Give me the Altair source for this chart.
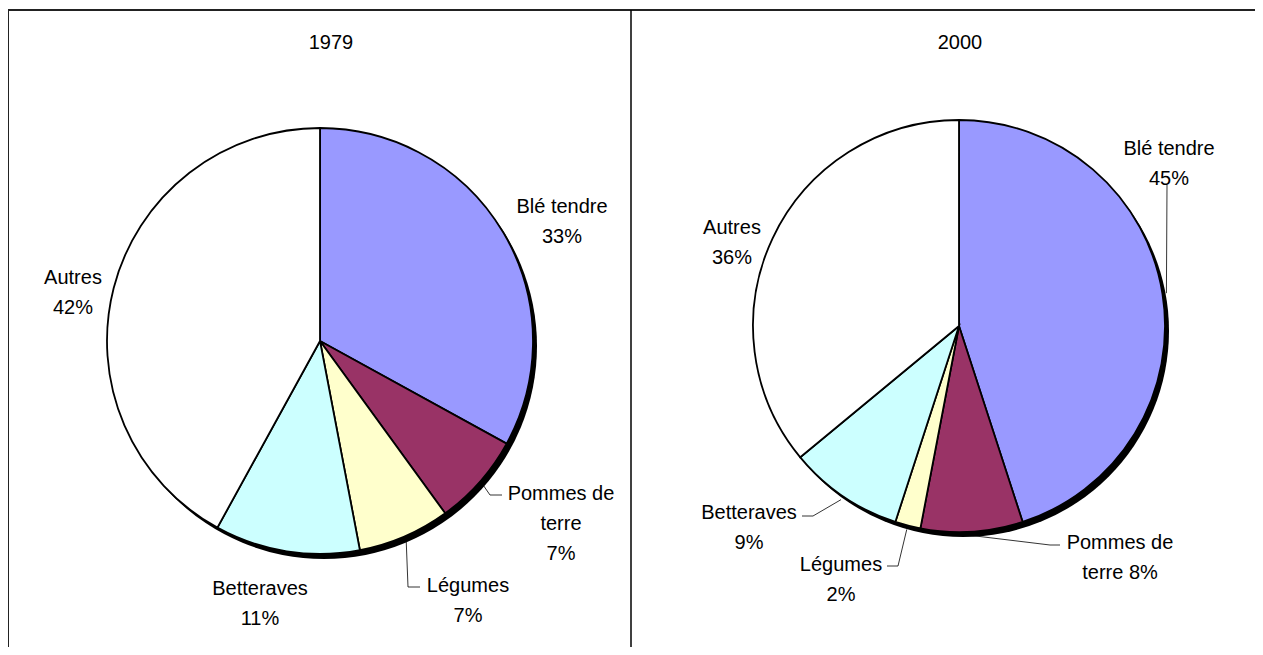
import math
import altair as alt
import pandas as pd

# ---------------- data ----------------
years = ["1979", "2000"]
categories = ["Blé tendre", "Pommes de terre", "Légumes", "Betteraves", "Autres"]
colors = ["#9999FF", "#993366", "#FFFFCC", "#CCFFFF", "#FFFFFF"]
values_1979 = [33, 7, 7, 11, 42]
values_2000 = [45, 8, 2, 9, 36]

# how each category name is wrapped in front of its percentage
wrap_1979 = ["Blé tendre\n", "Pommes de\nterre\n", "Légumes\n", "Betteraves\n", "Autres\n"]
wrap_2000 = ["Blé tendre\n", "Pommes de\nterre ", "Légumes\n", "Betteraves\n", "Autres\n"]

# ---------------- layout (chart pixel space) ----------------
W, H = 1247, 639
FONT = "Liberation Sans"
FS = 20
LAYOUT = {
    "1979": dict(
        cx=312, cy=333, r=213, tx=323,
        lab=[(242, -134), (241, 153), (148, 245), (-60, 248), (-247, -63)],
        leader=[0, 1, 1, 0, 0],
        end=[(0, 0), (-59, 1), (-48, 1), (0, 0), (0, 0)],
        elbow=[(0, 0), (-71, 1), (-60, 1), (0, 0), (0, 0)],
    ),
    "2000": dict(
        cx=951, cy=318, r=206, tx=952,
        lab=[(210, -177), (161, 217), (-118, 239), (-210, 187), (-227, -98)],
        leader=[1, 1, 1, 1, 0],
        end=[(-2, 36), (-60, 2), (46, 1), (53, 3), (0, 0)],
        elbow=[(-2, 36), (-70, 2), (57, 1), (64, 3), (0, 0)],
    ),
}

color_scale = alt.Scale(domain=categories, range=colors)


def pie_layers(year, values, wraps):
    L = LAYOUT[year]
    cx, cy, r = L["cx"], L["cy"], L["r"]
    df = pd.DataFrame({
        "cat": categories,
        "value": values,
        "order": list(range(len(categories))),
        "wrap": wraps,
        "ldx": [p[0] for p in L["lab"]],
        "ldy": [p[1] for p in L["lab"]],
        "leader": L["leader"],
        "edx": [p[0] for p in L["end"]],
        "edy": [p[1] for p in L["end"]],
        "bdx": [p[0] for p in L["elbow"]],
        "bdy": [p[1] for p in L["elbow"]],
    })
    base = alt.Chart(df).transform_window(
        cum="sum(value)", sort=[alt.SortField("order")]
    ).transform_joinaggregate(total="sum(value)").transform_calculate(
        mid="(datum.cum - datum.value/2) / datum.total * 2 * PI",
        label="datum.wrap + datum.value + '%'",
        lx=f"{cx} + datum.ldx",
        ly=f"{cy} + datum.ldy",
    ).transform_calculate(
        sx=f"{cx} + {r + 4} * sin(datum.mid)",
        sy=f"{cy} - {r + 4} * cos(datum.mid)",
        bx="datum.lx + datum.bdx",
        by="datum.ly + datum.bdy",
        ex="datum.lx + datum.edx",
        ey="datum.ly + datum.edy",
    )

    shadow = alt.Chart(pd.DataFrame({"k": [year]})).mark_arc(
        radius=r, theta=0, theta2=2 * math.pi, color="black"
    ).encode(x=alt.value(cx + 4), y=alt.value(cy + 5))

    arcs = base.mark_arc(radius=r, stroke="black", strokeWidth=1.8).encode(
        theta=alt.Theta("value:Q", stack=True),
        color=alt.Color("cat:N", scale=color_scale, legend=None),
        order=alt.Order("order:Q"),
        x=alt.value(cx),
        y=alt.value(cy),
    )

    lead = base.transform_filter("datum.leader == 1")
    seg1 = lead.mark_rule(color="black", strokeWidth=0.8).encode(
        x=alt.X("sx:Q", scale=None), y=alt.Y("sy:Q", scale=None),
        x2="bx:Q", y2="by:Q",
    )
    seg2 = lead.mark_rule(color="black", strokeWidth=0.8).encode(
        x=alt.X("bx:Q", scale=None), y=alt.Y("by:Q", scale=None),
        x2="ex:Q", y2="ey:Q",
    )

    labels = base.mark_text(
        font=FONT, fontSize=FS, lineBreak="\n", lineHeight=30,
        align="center", baseline="middle", color="black",
    ).encode(
        x=alt.X("lx:Q", scale=None), y=alt.Y("ly:Q", scale=None), text="label:N"
    )

    title = alt.Chart(pd.DataFrame({"year": [year]})).mark_text(
        font=FONT, fontSize=FS, align="center", baseline="middle", color="black"
    ).encode(x=alt.value(L["tx"]), y=alt.value(35), text="year:N")

    return [shadow, arcs, seg1, seg2, labels, title]


frame = alt.Chart(pd.DataFrame({"k": [0]}))
top_border = frame.mark_rule(color="#222222", strokeWidth=2).encode(
    x=alt.value(0), x2=alt.value(W), y=alt.value(2), y2=alt.value(2))
left_border = frame.mark_rule(color="#222222", strokeWidth=2).encode(
    x=alt.value(0), x2=alt.value(0), y=alt.value(2), y2=alt.value(H))
divider = frame.mark_rule(color="black", strokeWidth=1.5).encode(
    x=alt.value(623), x2=alt.value(623), y=alt.value(2), y2=alt.value(H))

layers = [top_border, left_border, divider]
layers += pie_layers("1979", values_1979, wrap_1979)
layers += pie_layers("2000", values_2000, wrap_2000)

chart = alt.layer(*layers).properties(
    width=W, height=H, autosize="none", padding=0
).configure_view(stroke=None)

chart.save("out.html", embed_options={"renderer": "svg", "actions": False})
